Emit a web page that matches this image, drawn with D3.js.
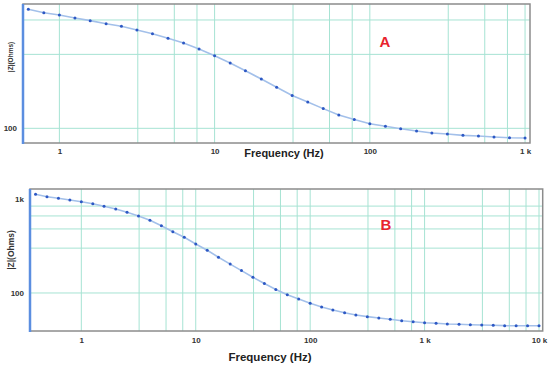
<!DOCTYPE html>
<html>
<head>
<meta charset="utf-8">
<script src="https://cdn.jsdelivr.net/npm/d3@7"></script>
<style>
  body { margin: 0; background: #fff; }
  svg { display: block; font-family: "Liberation Sans", Arial, sans-serif; }
  .tick text { font-weight: bold; fill: #333; }
</style>
</head>
<body>
<svg id="chart" width="550" height="366"></svg>
<script>
// panel A
const freqA = [0.631, 0.794, 1, 1.26, 1.58, 2, 2.51, 3.16, 3.98, 5.01, 6.31, 7.94,
  10, 12.6, 15.8, 20, 25.1, 31.6, 39.8, 50.1, 63.1, 79.4,
  100, 126, 158, 200, 251, 316, 398, 501, 631, 794, 1000];
const zA = [586, 557, 538, 515, 495, 473, 455, 431, 408, 381, 355, 325,
  294, 264, 235, 208, 184, 163, 148, 134, 122, 114,
  107, 103, 99.4, 96.1, 93.3, 91.9, 90.1, 89.2, 87.9, 87.0, 86.6];
const xTicksA = [1, 10, 100, 1000];
const xTickLabelsA = ["1", "10", "100", "1 k"];
const yTicksA = [100];
const yTickLabelsA = ["100"];
const xGridA = [1, 3.2, 5.5, 7.7, 10, 32, 55, 77, 100, 320, 550, 770, 1000];
const yGridA = [100, 300, 500];

// panel B
const freqB = [0.398, 0.501, 0.631, 0.794, 1, 1.26, 1.58, 2, 2.51, 3.16, 3.98, 5.01, 6.31, 7.94,
  10, 12.6, 15.8, 20, 25.1, 31.6, 39.8, 50.1, 63.1, 79.4,
  100, 126, 158, 200, 251, 316, 398, 501, 631, 794,
  1000, 1260, 1580, 2000, 2510, 3160, 3980, 5010, 6310, 7940, 10000];
const zB = [1122, 1058, 1017, 976, 936, 891, 836, 783, 722, 659, 593, 520, 449, 391,
  332, 285, 240, 203, 173, 147, 126, 109, 96, 86.3,
  77.7, 71.0, 65.9, 61.7, 58.3, 56.0, 54.2, 52.5, 50.7, 49.5,
  48.3, 47.6, 46.8, 46.5, 46.0, 45.7, 45.3, 44.9, 44.8, 44.8, 44.8];
const xTicksB = [1, 10, 100, 1000, 10000];
const xTickLabelsB = ["1", "10", "100", "1 k", "10 k"];
const yTicksB = [100, 1000];
const yTickLabelsB = ["100", "1k"];
const xGridB = [1, 3.2, 5.5, 7.7, 10, 32, 55, 77, 100, 320, 550, 770,
  1000, 3200, 5500, 7700, 10000];
const yGridB = [100, 300, 480, 660, 840];

const svg = d3.select("#chart");

const gridColor = "#a6e3d3";
const lineColor = "#a3c0ea";
const dotColor = "#2d58c4";

function drawPanel(p) {
  const x = d3.scaleLog().domain(p.xDomain).range([p.left, p.right]);
  const y = d3.scaleLog().domain(p.yDomain).range([p.bottom, p.top]);
  const g = svg.append("g");

  // grid
  g.append("g").selectAll("line").data(p.xGrid).join("line")
    .attr("x1", d => x(d)).attr("x2", d => x(d))
    .attr("y1", p.top).attr("y2", p.bottom)
    .attr("stroke", gridColor).attr("stroke-width", 1);
  g.append("g").selectAll("line").data(p.yGrid).join("line")
    .attr("x1", p.left).attr("x2", p.right)
    .attr("y1", d => y(d)).attr("y2", d => y(d))
    .attr("stroke", gridColor).attr("stroke-width", 1);

  // frame
  g.append("rect")
    .attr("x", p.left).attr("y", p.top)
    .attr("width", p.right - p.left).attr("height", p.bottom - p.top)
    .attr("fill", "none").attr("stroke", "#8c8c8c").attr("stroke-width", 1.5);
  g.append("line")
    .attr("x1", p.left).attr("x2", p.left)
    .attr("y1", p.top).attr("y2", p.bottom + 1)
    .attr("stroke", "#5b8ee0").attr("stroke-width", 2.5);

  // curve + points
  const pts = p.freq.map((f, i) => ({ f: f, z: p.z[i] }));
  g.append("path")
    .datum(pts)
    .attr("fill", "none")
    .attr("stroke", lineColor)
    .attr("stroke-width", 1.6)
    .attr("d", d3.line().x(d => x(d.f)).y(d => y(d.z)));
  g.append("g").selectAll("circle").data(pts).join("circle")
    .attr("cx", d => x(d.f)).attr("cy", d => y(d.z))
    .attr("r", 1.5).attr("fill", dotColor);

  // axes
  g.append("g")
    .attr("transform", `translate(0,${p.bottom})`)
    .style("font-size", p.tickSize + "px")
    .call(d3.axisBottom(x).tickValues(p.xTicks)
      .tickFormat((d, i) => p.xTickLabels[i]).tickSize(0).tickPadding(p.xPad))
    .call(g => g.select(".domain").remove());
  g.append("g")
    .attr("transform", `translate(${p.left},0)`)
    .style("font-size", p.tickSize + "px")
    .call(d3.axisLeft(y).tickValues(p.yTicks)
      .tickFormat((d, i) => p.yTickLabels[i]).tickSize(0).tickPadding(6))
    .call(g => g.select(".domain").remove());

  // titles
  g.append("text")
    .attr("x", p.xTitle[0]).attr("y", p.xTitle[1])
    .attr("text-anchor", "middle").attr("dominant-baseline", "middle")
    .style("font-size", p.xTitleSize + "px").style("font-weight", "bold")
    .attr("fill", "#222")
    .text("Frequency (Hz)");
  g.append("text")
    .attr("transform", `translate(${p.yTitle[0]},${p.yTitle[1]}) rotate(-90)`)
    .attr("text-anchor", "middle").attr("dominant-baseline", "middle")
    .style("font-size", p.yTitleSize + "px").style("font-weight", "bold")
    .attr("fill", "#333")
    .text("|Z|(Ohms)");
  g.append("text")
    .attr("x", p.tag[0]).attr("y", p.tag[1])
    .attr("text-anchor", "middle").attr("dominant-baseline", "middle")
    .style("font-size", "15px").style("font-weight", "bold")
    .attr("fill", "#e8232d")
    .text(p.label);
}

drawPanel({
  freq: freqA, z: zA,
  xDomain: [0.583, 1076], yDomain: [80.4, 634],
  left: 23, right: 530, top: 4, bottom: 143,
  xTicks: xTicksA, xTickLabels: xTickLabelsA,
  yTicks: yTicksA, yTickLabels: yTickLabelsA,
  xGrid: xGridA, yGrid: yGridA,
  tickSize: 8, xPad: 5,
  xTitle: [284, 154.5], xTitleSize: 11,
  yTitle: [11, 57], yTitleSize: 6.5,
  tag: [385, 43], label: "A"
});

drawPanel({
  freq: freqB, z: zB,
  xDomain: [0.356, 10770], yDomain: [39.4, 1277],
  left: 30, right: 542.7, top: 189, bottom: 331,
  xTicks: xTicksB, xTickLabels: xTickLabelsB,
  yTicks: yTicksB, yTickLabels: yTickLabelsB,
  xGrid: xGridB, yGrid: yGridB,
  tickSize: 8, xPad: 6,
  xTitle: [270, 358], xTitleSize: 11.5,
  yTitle: [12, 250], yTitleSize: 8.5,
  tag: [386, 226], label: "B"
});
</script>
</body>
</html>
